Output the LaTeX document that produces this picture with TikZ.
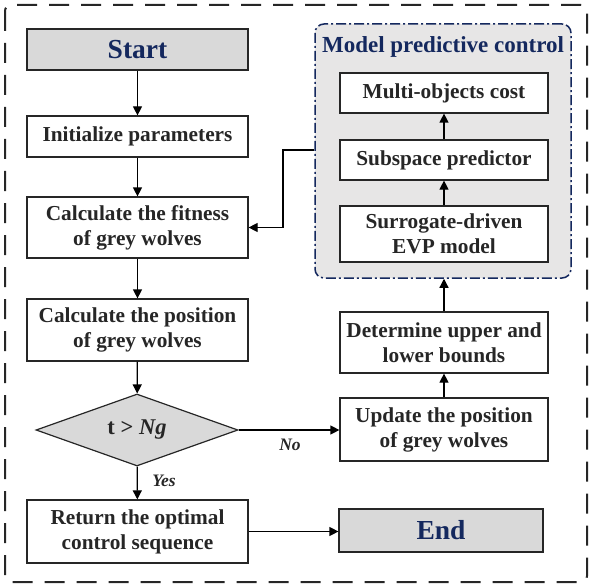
\documentclass[tikz,border=0pt]{standalone}
\usepackage{fontspec}
\setmainfont{Liberation Serif}
\usetikzlibrary{shapes.geometric,arrows.meta}
\definecolor{navy}{HTML}{14285E}
\definecolor{txt}{HTML}{262626}
\definecolor{termfill}{HTML}{D9D9D9}
\definecolor{mpcfill}{HTML}{E7E6E6}
\tikzset{
  box/.style={draw=txt, line width=1.2pt, fill=white, text=txt, align=center,
    inner sep=0pt, font=\fontsize{21.3}{25}\selectfont\bfseries},
  term/.style={draw=txt, line width=1.2pt, fill=termfill, text=navy, inner sep=0pt,
    font=\fontsize{27.5}{30}\selectfont\bfseries},
  arr/.style={draw=black, line width=1.2pt, -{Triangle[length=9pt,width=9pt]}},
  lbl/.style={text=txt, font=\fontsize{17.5}{20}\selectfont\bfseries\itshape, inner sep=0pt}
}
\begin{document}
\begin{tikzpicture}[x=1pt,y=-1pt]
\useasboundingbox (0,0) rectangle (590,586);
% outer dashed frame
\draw[line width=2pt, dash pattern=on 20pt off 12pt, rounded corners=6pt, draw=txt]
  (5,5) rectangle (587,582);
% MPC container
\node[draw=navy, fill=mpcfill, line width=1.5pt, rounded corners=9pt,
  dash pattern=on 10pt off 3pt on 2pt off 3pt,
  minimum width=256pt, minimum height=254pt, inner sep=0pt] (mpc) at (443,151) {};
\node[text=navy, font=\fontsize{23}{26}\selectfont\bfseries, inner sep=0pt] (mpct) at (443,47) {Model predictive control};
\node[box, minimum width=208pt, minimum height=40pt] (multi) at (444,93) {Multi-objects cost};
\node[box, minimum width=208pt, minimum height=40pt] (sub) at (444,160) {Subspace predictor};
\node[box, minimum width=208pt, minimum height=56pt] (sur) at (444,234) {Surrogate-driven\\EVP model};
% left column
\node[term, minimum width=221pt, minimum height=41pt] (start) at (137.5,49.5) {Start};
\node[box, minimum width=221pt, minimum height=41pt] (init) at (137.5,136.5) {Initialize parameters};
\node[box, minimum width=221pt, minimum height=61pt] (fit) at (137.5,227.5) {Calculate the fitness\\of grey wolves};
\node[box, minimum width=221pt, minimum height=62pt] (pos) at (137.5,330) {Calculate the position\\of grey wolves};
\node[diamond, draw=txt, line width=1.2pt, fill=termfill, aspect=2.8, inner sep=0pt,
  minimum width=202pt, minimum height=72pt, text=txt,
  font=\fontsize{22.5}{25}\selectfont\bfseries] (dia) at (137,430) {t > \textit{Ng}};
\node[box, minimum width=221pt, minimum height=63pt] (ret) at (137.5,531.5) {Return the optimal\\control sequence};
% right column
\node[term, minimum width=204pt, minimum height=43pt] (end) at (441,530.5) {End};
\node[box, minimum width=208pt, minimum height=63pt] (upd) at (444,429.5) {Update the position\\of grey wolves};
\node[box, minimum width=208pt, minimum height=61pt] (det) at (444,342.5) {Determine upper and\\lower bounds};
% labels
\node[lbl] (no) at (290,445) {No};
\node[lbl] (yes) at (164,481) {Yes};
% connectors
\draw[arr] (start) -- (init);
\draw[arr] (init) -- (fit);
\draw[arr] (fit) -- (pos);
\draw[arr] (pos) -- (dia);
\draw[arr] (dia) -- (ret);
\draw[arr] (dia.east) -- (upd.west |- dia.east);
\draw[arr] (ret.east) -- (end.west |- ret.east);
\draw[arr] (upd) -- (det);
\draw[arr] (det.north) -- (det.north |- mpc.south);
\draw[arr] (sur) -- (sub);
\draw[arr] (sub) -- (multi);
\coordinate (c1) at (283,150);
\draw[arr] (mpc.west |- c1) -- (c1) |- (fit.east);
\end{tikzpicture}
\end{document}
